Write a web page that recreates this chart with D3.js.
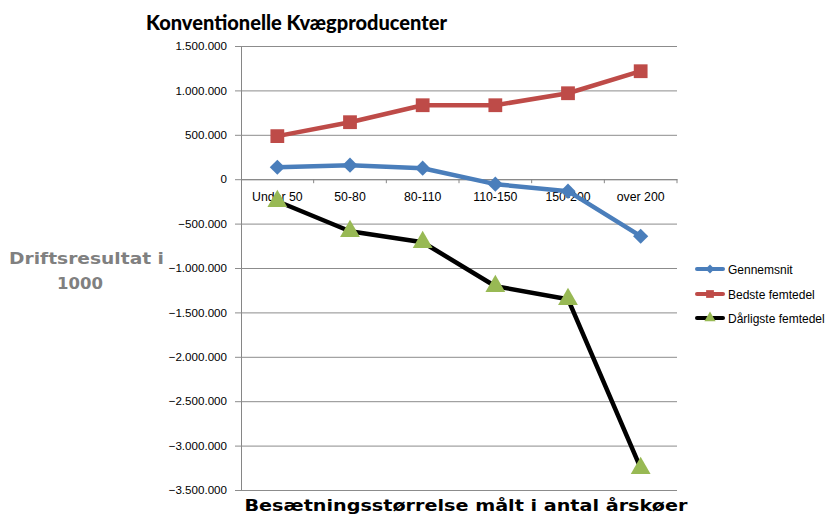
<!DOCTYPE html>
<html><head><meta charset="utf-8">
<script src="https://cdn.jsdelivr.net/npm/d3@7"></script>
<style>body{margin:0;background:#fff}svg{display:block}</style>
</head><body>
<svg id="chart" width="830" height="517"></svg>
<script>
const categories = ["Under 50","50-80","80-110","110-150","150-200","over 200"];
const gennemsnit = [135000,158000,124000,-56000,-135000,-642000];
const bedste = [485000,642000,833000,833000,968000,1216000];
const daarligste = [-248000,-586000,-710000,-1205000,-1351000,-3254000];
const yTicks = [1500000,1000000,500000,0,-500000,-1000000,-1500000,-2000000,-2500000,-3000000,-3500000];
const seriesNames = ["Gennemsnit","Bedste femtedel","Dårligste femtedel"];

const svg = d3.select("#chart");
const pLeft = 241, pRight = 677, pTop = 46, pBottom = 490;
const x = d3.scaleBand().domain(categories).range([pLeft, pRight]);
const y = d3.scaleLinear().domain([-3500000, 1500000]).range([pBottom, pTop]);
const fmt = v => d3.format(",")(v).replace(/,/g, ".");

svg.append("text").attr("x",146).attr("y",30).attr("font-family","Lato, sans-serif")
  .attr("font-weight",900).attr("font-size",20).attr("textLength",301).attr("lengthAdjust","spacingAndGlyphs")
  .text("Konventionelle Kvægproducenter");

// gridlines
const yAxis = d3.axisLeft(y).tickValues(yTicks).tickFormat(fmt).tickSize(-(pRight-pLeft)).tickPadding(14);
const gy = svg.append("g").attr("transform",`translate(${pLeft},0)`).call(yAxis);
gy.select(".domain").attr("stroke","#868686");
gy.selectAll(".tick line").attr("stroke","#8c8c8c").attr("x1",-6);
gy.selectAll(".tick text").attr("font-family","Liberation Sans, Arial, sans-serif").attr("font-size",11.6).attr("fill","#000");

// category axis at zero
const xAxis = d3.axisBottom(x).tickSize(0).tickPadding(13);
const gx = svg.append("g").attr("transform",`translate(0,${y(0)})`).call(xAxis);
gx.select(".domain").attr("stroke","#868686");
gx.selectAll(".tick text").attr("font-family","Liberation Sans, Arial, sans-serif").attr("font-size",12.3).attr("fill","#000");
categories.forEach((c,i)=>{
  const xv = pLeft + x.step()*(i+1);
  svg.append("line").attr("x1",xv).attr("x2",xv).attr("y1",y(0)).attr("y2",y(0)+4).attr("stroke","#868686");
});

const cx = c => x(c) + x.bandwidth()/2;
const line = d3.line().x((d,i)=>cx(categories[i])).y(d=>y(d));

const series = [
  {name:seriesNames[0], data:gennemsnit, color:"#4A7EBB", marker:"diamond", mcolor:"#4A7EBB"},
  {name:seriesNames[1], data:bedste, color:"#BE4B48", marker:"square", mcolor:"#BE4B48"},
  {name:seriesNames[2], data:daarligste, color:"#000000", marker:"triangle", mcolor:"#98B954"}
];
const sym = {diamond:d3.symbolSquare, square:d3.symbolSquare, triangle:d3.symbolTriangle};
const symSize = {diamond:115, square:190, triangle:170};
const symRot = {diamond:45, square:0, triangle:0};

series.forEach(s=>{
  svg.append("path").datum(s.data).attr("d",line).attr("fill","none").attr("stroke",s.color).attr("stroke-width",4.5).attr("stroke-linejoin","round");
  svg.selectAll(null).data(s.data).enter().append("path")
    .attr("d",d3.symbol().type(sym[s.marker]).size(symSize[s.marker]))
    .attr("transform",(d,i)=>`translate(${cx(categories[i])},${y(d)}) rotate(${symRot[s.marker]})`)
    .attr("fill",s.mcolor);
});

// axis titles
const ytAttrs = t => t.attr("font-family","DejaVu Sans, Verdana, sans-serif").attr("font-weight","bold")
  .attr("font-size",16.5).attr("fill","#808080");
svg.append("text").call(ytAttrs).attr("x",9).attr("y",264).attr("textLength",155).attr("lengthAdjust","spacingAndGlyphs").text("Driftsresultat i");
svg.append("text").call(ytAttrs).attr("x",80).attr("y",289).attr("text-anchor","middle").text("1000");

svg.append("text").attr("x",466).attr("y",511).attr("text-anchor","middle").attr("font-family","DejaVu Sans, Verdana, sans-serif")
  .attr("font-weight","bold").attr("font-size",16.5).attr("textLength",443).attr("lengthAdjust","spacingAndGlyphs")
  .text("Besætningsstørrelse målt i antal årskøer");

// legend
const legY = [269,294,318];
const legSize = {diamond:40, square:60, triangle:55};
series.forEach((s,i)=>{
  const g = svg.append("g").attr("transform",`translate(0,${legY[i]})`);
  g.append("line").attr("x1",697).attr("x2",723).attr("y1",0).attr("y2",0).attr("stroke",s.color).attr("stroke-width",4).attr("stroke-linecap","round");
  g.append("path").attr("d",d3.symbol().type(sym[s.marker]).size(legSize[s.marker])).attr("transform",`translate(710,0) rotate(${symRot[s.marker]})`).attr("fill",s.mcolor);
  g.append("text").attr("x",728).attr("y",4.5).attr("font-family","Liberation Sans, Arial, sans-serif").attr("font-size",12).text(s.name);
});
</script>
</body></html>
